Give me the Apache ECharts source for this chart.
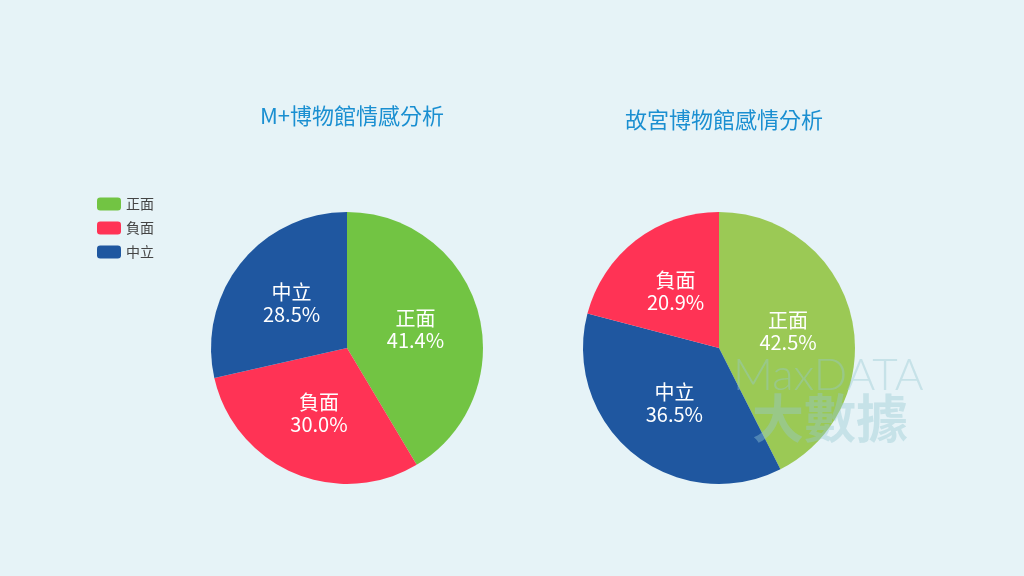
<!DOCTYPE html>
<html><head><meta charset="utf-8">
<script src="https://cdn.jsdelivr.net/npm/echarts@6/dist/echarts.min.js"></script>
<style>body{margin:0;background:#e6f3f7}#c{width:1024px;height:576px}</style>
</head><body><div id="c"></div>
<script>
var leftNames = ['正面', '負面', '中立'];
var leftValues = [41.4, 30.0, 28.5];
var leftColors = ['#72c443', '#ff3355', '#1f57a0'];
var rightNames = ['正面', '中立', '負面'];
var rightValues = [42.5, 36.5, 20.9];
var rightColors = ['#9bc955', '#1f57a0', '#ff3355'];

function build(names, values, colors) {
  return names.map(function (n, i) {
    return { name: n, value: values[i], itemStyle: { color: colors[i] } };
  });
}
var font = '"Noto Sans CJK TC", "Noto Sans", sans-serif';
var label = {
  show: true, position: 'inside', color: '#fff', fontSize: 20, lineHeight: 22,
  fontFamily: font,
  formatter: function (p) { return p.name + '\n' + p.value.toFixed(1) + '%'; }
};
var chart = echarts.init(document.getElementById('c'));
chart.setOption({
  backgroundColor: '#e6f3f7',
  animation: false,
  title: [
    { text: 'M+博物館情感分析', left: 347, top: 100, textAlign: 'center',
      textStyle: { color: '#1a8fd1', fontSize: 22, fontWeight: 'normal', fontFamily: font } },
    { text: '故宮博物館感情分析', left: 719, top: 104, textAlign: 'center',
      textStyle: { color: '#1a8fd1', fontSize: 22, fontWeight: 'normal', fontFamily: font } }
  ],
  legend: {
    orient: 'vertical', left: 92, top: 192, itemWidth: 24, itemHeight: 13, itemGap: 10,
    data: ['正面', '負面', '中立'],
    textStyle: { color: '#444', fontSize: 14, fontFamily: font },
    itemStyle: { borderRadius: 4 }
  },
  graphic: [
    { type: 'text', left: 733, top: 354, z: 10, style: { text: 'MaxDATA', fill: 'rgba(150,200,210,0.4)', fontSize: 44, fontFamily: 'Lato, sans-serif', fontWeight: 300 } },
    { type: 'text', left: 752, top: 392, z: 10, style: { text: '大數據', fill: 'rgba(150,200,210,0.4)', fontSize: 52, fontWeight: 'bold', fontFamily: font } }
  ],
  series: [
    { type: 'pie', center: [347, 348], radius: 136, startAngle: 90, clockwise: true,
      label: label, labelLine: { show: false }, data: build(leftNames, leftValues, leftColors) },
    { type: 'pie', center: [719, 348], radius: 136, startAngle: 90, clockwise: true,
      label: label, labelLine: { show: false }, data: build(rightNames, rightValues, rightColors) }
  ]
});
</script></body></html>
